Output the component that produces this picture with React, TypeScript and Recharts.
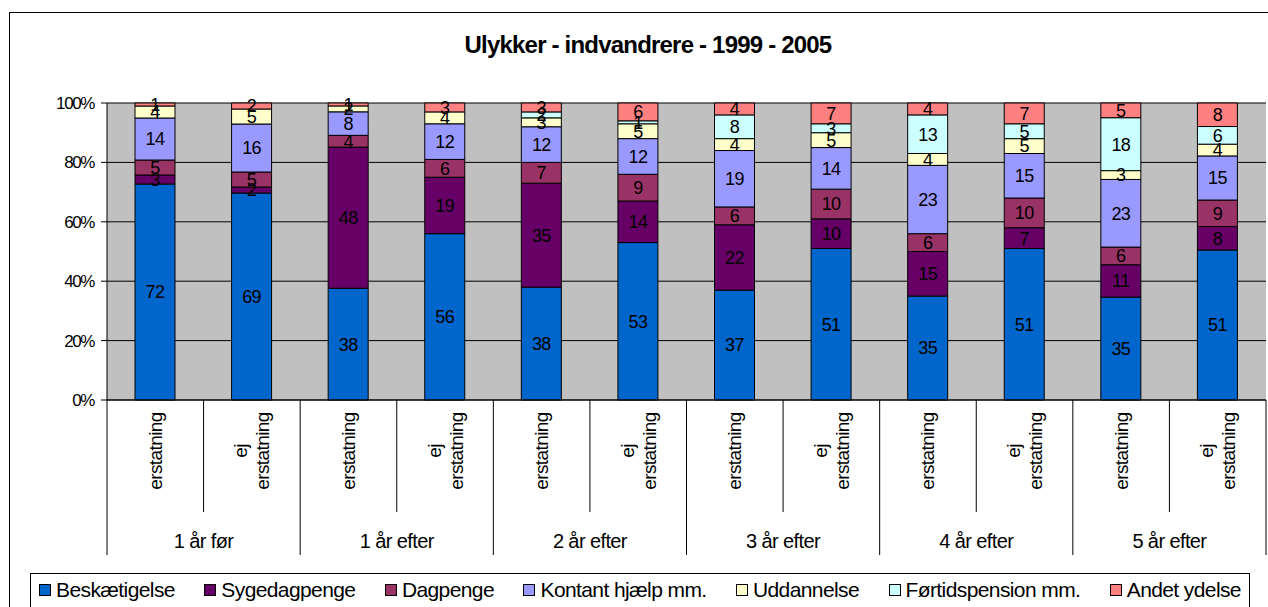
import { BarChart, Bar, XAxis, YAxis, CartesianGrid, LabelList } from 'recharts'

const groups = ['1 år før', '1 år efter', '2 år efter', '3 år efter', '4 år efter', '5 år efter']
const subLabels = ['erstatning', 'ej erstatning']

const seriesNames = [
  'Beskætigelse',
  'Sygedagpenge',
  'Dagpenge',
  'Kontant hjælp mm.',
  'Uddannelse',
  'Førtidspension mm.',
  'Andet ydelse',
]
const seriesColors = ['#0066CC', '#660066', '#993366', '#9999FF', '#FFFFCC', '#CCFFFF', '#FF8080']

// percent per category, bottom to top
const beskaeftigelse = [72, 69, 38, 56, 38, 53, 37, 51, 35, 51, 35, 51]
const sygedagpenge = [3, 2, 48, 19, 35, 14, 22, 10, 15, 7, 11, 8]
const dagpenge = [5, 5, 4, 6, 7, 9, 6, 10, 6, 10, 6, 9]
const kontant = [14, 16, 8, 12, 12, 12, 19, 14, 23, 15, 23, 15]
const uddannelse = [4, 5, 2, 4, 3, 5, 4, 5, 4, 5, 3, 4]
const foertid = [0, 0, 0, 0, 2, 1, 8, 3, 13, 5, 18, 6]
const andet = [1, 2, 1, 3, 3, 6, 4, 7, 4, 7, 5, 8]

const yTicks = [0, 0.2, 0.4, 0.6, 0.8, 1]

const series = [beskaeftigelse, sygedagpenge, dagpenge, kontant, uddannelse, foertid, andet]
const keys = ['s0', 's1', 's2', 's3', 's4', 's5', 's6']

const data = groups.flatMap((g, gi) =>
  subLabels.map((sub, si) => {
    const i = gi * 2 + si
    const row: Record<string, string | number> = { id: `${g}|${sub}`, group: g, sub }
    keys.forEach((k, ki) => (row[k] = series[ki][i]))
    return row
  }),
)

const W = 1268
const H = 607
const PLOT_LEFT = 107
const PLOT_RIGHT = 1266
const PLOT_TOP = 103
const PLOT_BOTTOM = 400
const BAND = (PLOT_RIGHT - PLOT_LEFT) / data.length
const FONT = '"Liberation Sans", Arial, sans-serif'

function CategoryTick(props: any) {
  const { x, payload } = props
  const i = payload.index
  const row = data[i]
  const left = x - BAND / 2
  const lines = String(row.sub).split(' ')
  const cy = 451
  const lh = 22
  return (
    <g>
      <line x1={left} x2={left} y1={PLOT_BOTTOM} y2={i % 2 === 0 ? 555 : 512} stroke="#000" />
      {i === data.length - 1 && (
        <line x1={left + BAND} x2={left + BAND} y1={PLOT_BOTTOM} y2={555} stroke="#000" />
      )}
      {lines.map((t, li) => {
        const tx = x + (li - (lines.length - 1) / 2) * lh
        return (
          <text
            key={li}
            x={tx}
            y={cy}
            transform={`rotate(-90, ${tx}, ${cy})`}
            textAnchor="middle"
            dominantBaseline="central"
            fontSize={19}
            letterSpacing={-0.6}
            fill="#000"
          >
            {t}
          </text>
        )
      })}
      {i % 2 === 0 && (
        <text x={x + BAND / 2} y={541} textAnchor="middle" dominantBaseline="central" fontSize={20} letterSpacing={-0.6} fill="#000">
          {row.group}
        </text>
      )}
    </g>
  )
}

export default function App() {
  return (
    <div
      style={{
        position: 'absolute',
        left: 0,
        top: 0,
        width: W,
        height: H,
        overflow: 'hidden',
        background: '#fff',
        fontFamily: FONT,
      }}
    >
      <div
        style={{
          position: 'absolute',
          left: 9,
          top: 12,
          width: W,
          height: H,
          border: '1px solid #000',
        }}
      />
      <div
        style={{
          position: 'absolute',
          left: 28,
          width: W - 28,
          top: 31,
          textAlign: 'center',
          fontWeight: 'bold',
          fontSize: 24,
          letterSpacing: -0.8,
        }}
      >
        Ulykker - indvandrere - 1999 - 2005
      </div>
      <div style={{ position: 'absolute', left: 0, top: 0 }}>
        <BarChart
          width={W}
          height={H}
          data={data}
          stackOffset="expand"
          barSize={40}
          margin={{ top: PLOT_TOP, right: W - PLOT_RIGHT, left: PLOT_LEFT - 60, bottom: 47 }}
          style={{ fontFamily: FONT }}
        >
          <CartesianGrid fill="#C0C0C0" fillOpacity={1} stroke="#000" vertical={false} />
          <XAxis
            dataKey="id"
            interval={0}
            height={160}
            tickLine={false}
            axisLine={{ stroke: '#000' }}
            tick={<CategoryTick />}
          />
          <YAxis
            width={60}
            domain={[0, 1]}
            ticks={yTicks}
            tickFormatter={(v) => `${Math.round(v * 100)}%`}
            axisLine={{ stroke: '#000' }}
            tickLine={{ stroke: '#000' }}
            tickSize={6}
            tickMargin={7}
            tick={{ fill: '#000', fontSize: 17, letterSpacing: -1.4 }}
          />
          {keys.map((k, ki) => (
            <Bar
              key={k}
              dataKey={k}
              name={seriesNames[ki]}
              stackId="a"
              fill={seriesColors[ki]}
              stroke="#000"
              strokeWidth={1}
              isAnimationActive={false}
            >
              <LabelList dataKey={k} position="center" fill="#000" fontSize={18} letterSpacing={-0.6} />
            </Bar>
          ))}
        </BarChart>
      </div>
      <div
        style={{
          position: 'absolute',
          left: 30,
          top: 573,
          width: 1220,
          height: 40,
          border: '1px solid #000',
          display: 'flex',
          justifyContent: 'space-between',
          alignItems: 'flex-start',
          padding: '4px 8px 0 8px',
          boxSizing: 'border-box',
          fontSize: 21,
          letterSpacing: -0.6,
        }}
      >
        {seriesNames.map((n, i) => (
          <span key={n} style={{ display: 'inline-flex', alignItems: 'center' }}>
            <span
              style={{
                width: 10,
                height: 10,
                background: seriesColors[i],
                border: '1px solid #000',
                marginRight: 5,
                display: 'inline-block',
              }}
            />
            {n}
          </span>
        ))}
      </div>
    </div>
  )
}
